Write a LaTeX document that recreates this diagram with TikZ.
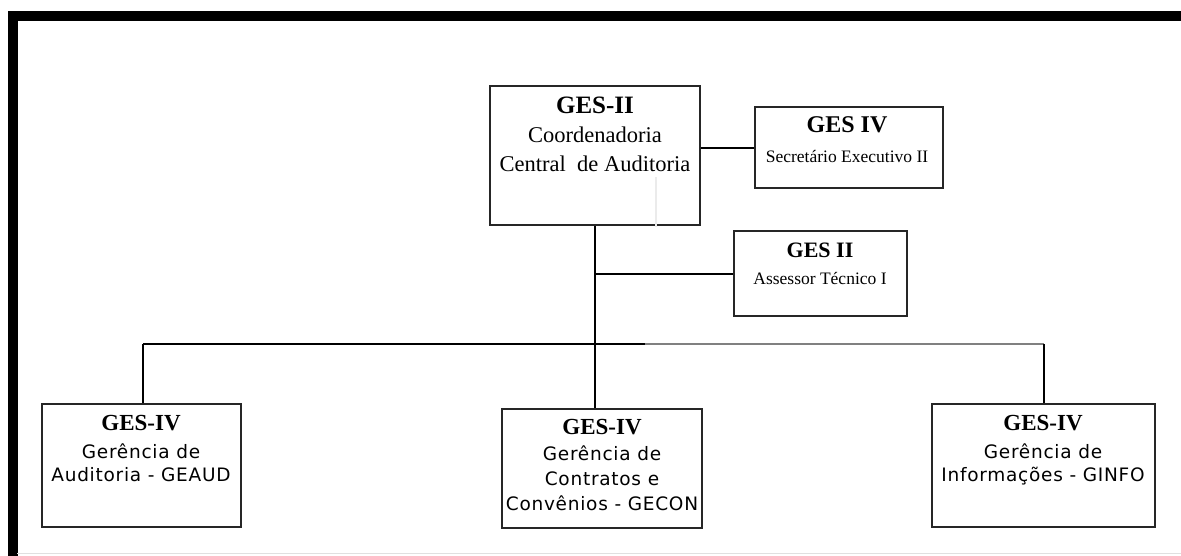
\documentclass[tikz,border=0pt]{standalone}
\usepackage{fontspec}
\setmainfont{Liberation Serif}
\newfontfamily\tnr{Liberation Serif}
\newfontfamily\vsans[LetterSpace=4]{DejaVu Sans}
\begin{document}
\begin{tikzpicture}[x=1pt,y=-1pt,
  box/.style={draw=black!85, line width=2.2pt, inner sep=0pt},
  conn/.style={draw=black, line width=2pt},
  headtxt/.style={anchor=base, inner sep=0pt, font=\tnr\bfseries\fontsize{#1}{#1}\selectfont},
  romtxt/.style={anchor=base, inner sep=0pt, font=\tnr\fontsize{#1}{#1}\selectfont},
  sanstxt/.style={anchor=base, inner sep=0pt, font=\vsans\fontsize{18.5}{18.5}\selectfont}]
\useasboundingbox (0,0) rectangle (1181,555);
% page frame
\draw[line width=10pt] (12.5,570) -- (12.5,15.5) -- (1195,15.5);
\draw[black!12, line width=1.5pt] (17,553.5) -- (1181,553.5);

% boxes
\node (main)  [box, minimum width=210pt, minimum height=139pt] at (595,155.5) {};
\node (sec)   [box, minimum width=188pt, minimum height=81pt]  at (849,147.5) {};
\node (ass)   [box, minimum width=173pt, minimum height=85pt]  at (820.5,273.5) {};
\node (geaud) [box, minimum width=199pt, minimum height=123pt] at (141.5,465.5) {};
\node (gecon) [box, minimum width=200pt, minimum height=119pt] at (602,468.5) {};
\node (ginfo) [box, minimum width=223pt, minimum height=123pt] at (1043.5,465.5) {};

% texts
\node (main1) [headtxt=25]  at (595,113) {GES-II};
\node (main2) [romtxt=22.5] at (595,142) {Coordenadoria};
\node (main3) [romtxt=22.5] at (595,171) {Central\ \ de Auditoria};
\node (sec1)  [headtxt=24]  at (847,132) {GES IV};
\node (sec2)  [romtxt=17.5] at (847,162) {Secretário Executivo II};
\node (ass1)  [headtxt=22]  at (820,257) {GES II};
\node (ass2)  [romtxt=17.5] at (820,284) {Assessor Técnico I};
\node (geaud1) [headtxt=23] at (141,430) {GES-IV};
\node (geaud2) [sanstxt] at (141,458) {Gerência de};
\node (geaud3) [sanstxt] at (141,481) {Auditoria - GEAUD};
\node (gecon1) [headtxt=23] at (602,434) {GES-IV};
\node (gecon2) [sanstxt] at (602,460) {Gerência de};
\node (gecon3) [sanstxt] at (602,485) {Contratos e};
\node (gecon4) [sanstxt] at (602,510) {Convênios - GECON};
\node (ginfo1) [headtxt=23] at (1043,430) {GES-IV};
\node (ginfo2) [sanstxt] at (1043,458) {Gerência de};
\node (ginfo3) [sanstxt] at (1043,481) {Informações - GINFO};

% connectors
\coordinate (barL) at (143,344);
\coordinate (barM) at (645,344);
\coordinate (barR) at (1043.5,344);
\draw[conn] (sec.west) -- (sec.west -| main.east);
\draw[conn] (main.south) -- (main.south |- gecon.north);
\draw[conn] (ass.west) -- (ass.west -| main.south);
\draw[conn] (barL) -- (barM);
\draw[draw=black!50, line width=2.4pt] (barM) -- (barR);
\draw[conn] (barL) -- (barL |- geaud.north);
\draw[conn] (barR) -- (ginfo.north);
% faint rule inside the top box
\draw[black!8, line width=1.2pt] (656,177) -- (656,227);
\end{tikzpicture}
\end{document}
